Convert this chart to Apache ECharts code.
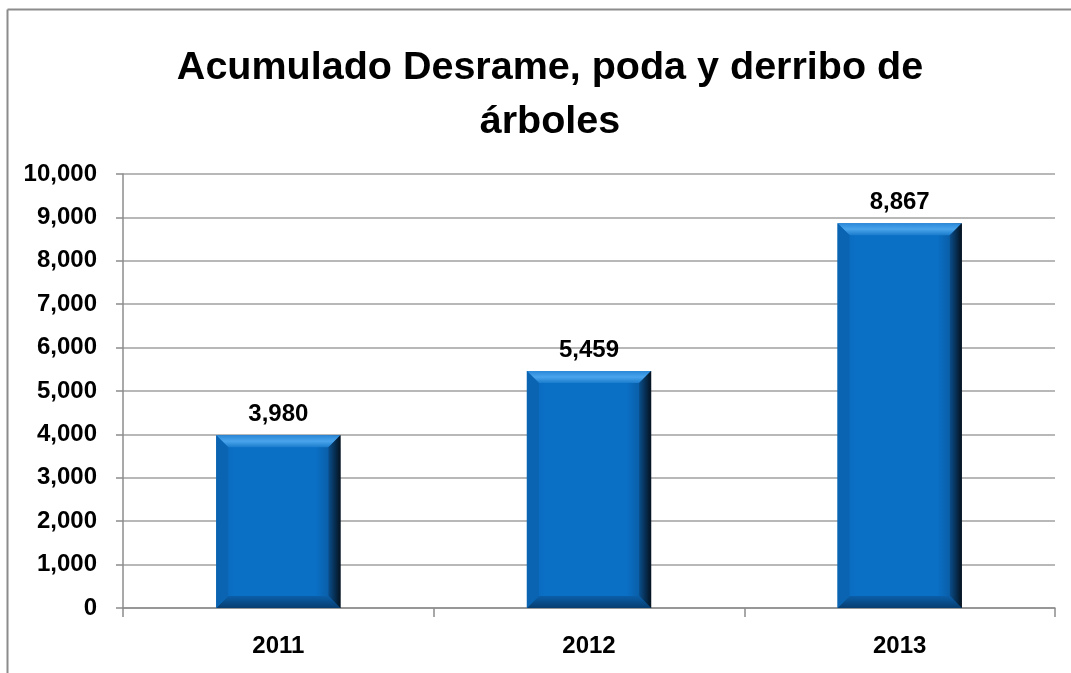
<!DOCTYPE html>
<html>
<head>
<meta charset="utf-8">
<script src="https://cdn.jsdelivr.net/npm/echarts@6/dist/echarts.min.js"></script>
<style>
html,body{margin:0;padding:0;background:#fff;}
#chart{width:1071px;height:673px;}
</style>
</head>
<body>
<div id="chart"></div>
<script>
const categories = ['2011', '2012', '2013'];
const values = [3980, 5459, 8867];
const titleText = 'Acumulado Desrame, poda y derribo de\nárboles';

const chart = echarts.init(document.getElementById('chart'), null, {renderer: 'canvas'});
const fontFamily = '"Liberation Sans", Arial, sans-serif';

const option = {
  backgroundColor: '#ffffff',
  animation: false,
  title: {
    text: titleText,
    left: 545,
    textAlign: 'center',
    top: 36,
    textStyle: {
      fontFamily: fontFamily,
      fontSize: 39.5,
      fontWeight: 'bold',
      color: '#000',
      lineHeight: 54
    }
  },
  graphic: [
    {type: 'line', shape: {x1: 7.5, y1: 9.5, x2: 1071, y2: 9.5}, style: {stroke: '#8c8c8c', lineWidth: 2}, silent: true},
    {type: 'line', shape: {x1: 7.5, y1: 9.5, x2: 7.5, y2: 673}, style: {stroke: '#8c8c8c', lineWidth: 2}, silent: true}
  ],
  grid: {left: 123, right: 16, top: 174, bottom: 65, containLabel: false},
  xAxis: {
    type: 'category',
    data: categories,
    axisLine: {lineStyle: {color: '#8c8c8c', width: 1.5}},
    axisTick: {show: true, length: 9, lineStyle: {color: '#8c8c8c', width: 1.5}},
    axisLabel: {fontFamily: fontFamily, fontSize: 24, fontWeight: 'bold', color: '#000', margin: 26}
  },
  yAxis: {
    type: 'value',
    min: 0,
    max: 10000,
    interval: 1000,
    axisLine: {show: true, lineStyle: {color: '#8c8c8c', width: 1.5}},
    axisTick: {show: true, length: 7, lineStyle: {color: '#8c8c8c', width: 1.5}},
    splitLine: {lineStyle: {color: '#a0a0a0', width: 1.5}},
    axisLabel: {
      fontFamily: fontFamily, fontSize: 24, fontWeight: 'bold', color: '#000', margin: 26,
      formatter: function (v) { return v.toLocaleString('en-US'); }
    }
  },
  series: [
    {
      type: 'bar',
      data: values,
      barWidth: '40%',
      itemStyle: {
        color: new echarts.graphic.LinearGradient(0, 0, 1, 0, [
          {offset: 0, color: '#0a66b6'},
          {offset: 0.15, color: '#0a70c6'},
          {offset: 0.8, color: '#0a70c6'},
          {offset: 0.93, color: '#0a5aa0'},
          {offset: 1, color: '#061a30'}
        ])
      },
      label: {
        show: true,
        position: 'top',
        distance: 9,
        fontFamily: fontFamily,
        fontSize: 24,
        fontWeight: 'bold',
        color: '#000',
        formatter: function (p) { return p.value.toLocaleString('en-US'); }
      },
      z: 2
    },
    {
      type: 'custom',
      silent: true,
      z: 3,
      data: values.map(function (v, i) { return [i, v]; }),
      renderItem: function (params, api) {
        const idx = api.value(0);
        const v = api.value(1);
        const top = api.coord([idx, v]);
        const bot = api.coord([idx, 0]);
        const bw = api.size([1, 0])[0] * 0.4;
        const x0 = top[0] - bw / 2, x1 = top[0] + bw / 2;
        const y0 = top[1], y1 = bot[1];
        const b = 12;
        return {
          type: 'group',
          children: [
            {
              type: 'polygon',
              shape: {points: [[x0, y0], [x1, y0], [x1 - b, y0 + b], [x0 + b, y0 + b]]},
              style: {fill: new echarts.graphic.LinearGradient(0, 0, 0, 1, [
                {offset: 0, color: '#2a88d8'},
                {offset: 0.5, color: '#4aa4ec'},
                {offset: 1, color: '#1a7ccc'}
              ])}
            },
            {
              type: 'polygon',
              shape: {points: [[x1, y0], [x1, y1], [x1 - b, y1 - b], [x1 - b, y0 + b]]},
              style: {fill: new echarts.graphic.LinearGradient(0, 0, 1, 0, [
                {offset: 0, color: '#0a4e8c'},
                {offset: 1, color: '#04121f'}
              ])}
            },
            {
              type: 'polygon',
              shape: {points: [[x0, y1], [x1, y1], [x1 - b, y1 - b], [x0 + b, y1 - b]]},
              style: {fill: new echarts.graphic.LinearGradient(0, 0, 0, 1, [
                {offset: 0, color: '#0a5ea8'},
                {offset: 1, color: '#083e70'}
              ])}
            },
            {
              type: 'polygon',
              shape: {points: [[x0, y0], [x0 + b, y0 + b], [x0 + b, y1 - b], [x0, y1]]},
              style: {fill: '#0a64b2'}
            }
          ]
        };
      }
    }
  ]
};

chart.setOption(option);
</script>
</body>
</html>
